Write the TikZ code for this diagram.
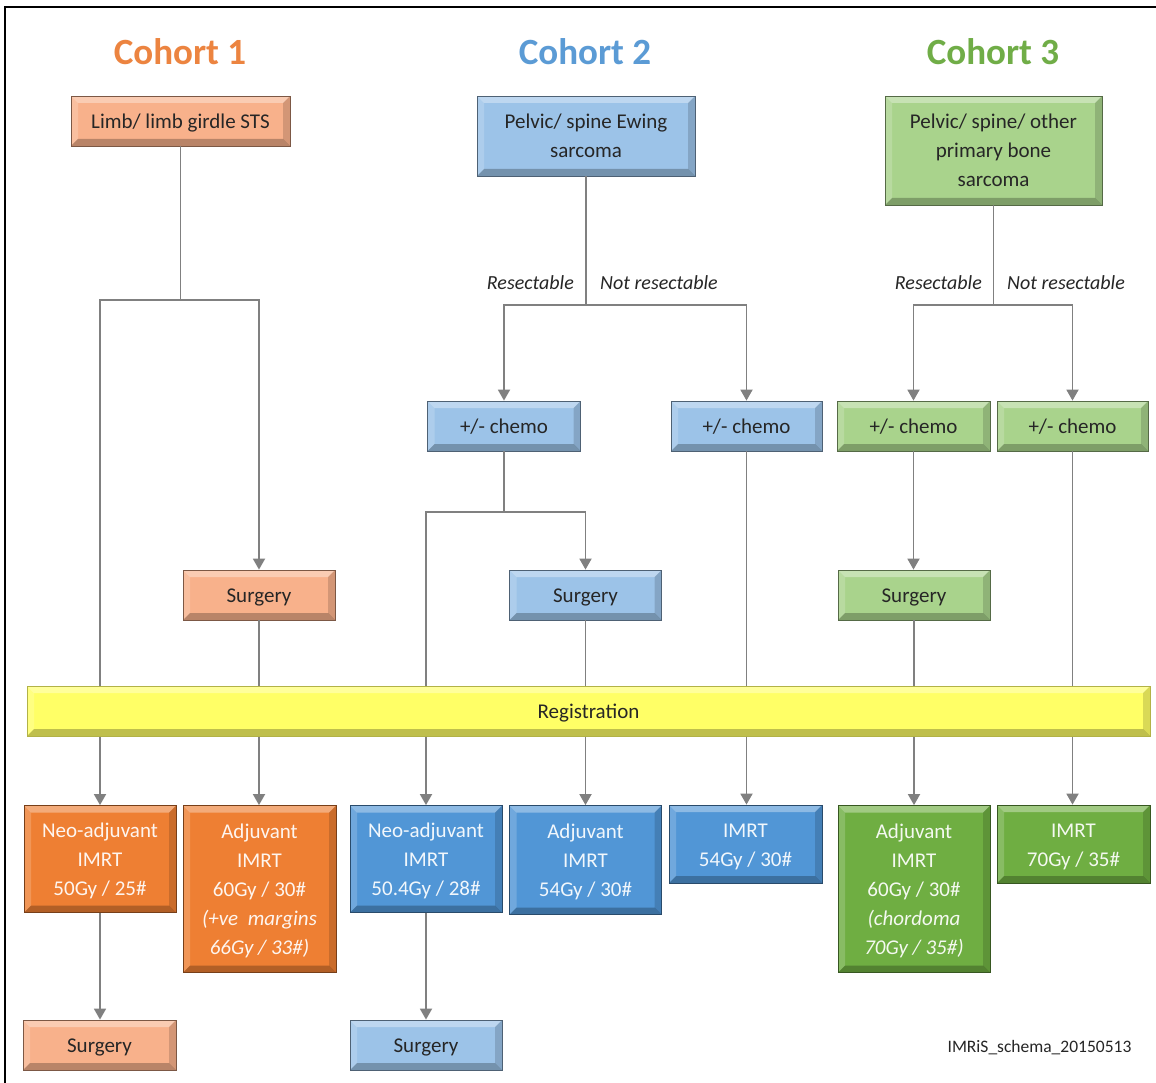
\documentclass[tikz,border=0pt]{standalone}
\usepackage{fontspec}
\setmainfont{Carlito}
\usetikzlibrary{arrows.meta}
\definecolor{orL}{HTML}{F8B18B}
\definecolor{orD}{HTML}{EE7F33}
\definecolor{blL}{HTML}{9CC3E8}
\definecolor{blD}{HTML}{5196D6}
\definecolor{grL}{HTML}{A9D38C}
\definecolor{grD}{HTML}{6FAE42}
\definecolor{yl}{HTML}{FFFF66}
\definecolor{conn}{HTML}{808080}
\definecolor{txt}{HTML}{262626}
\definecolor{tOr}{HTML}{EC8440}
\definecolor{tBl}{HTML}{5B9BD5}
\definecolor{tGr}{HTML}{70AD47}
\newcommand\myst{\rule[-7pt]{0pt}{29pt}}
\tikzset{
 bevel/.style={path picture={
   \fill[white,opacity=0.35] (path picture bounding box.north west) -- (path picture bounding box.north east) -- ([xshift=-7pt,yshift=-7pt]path picture bounding box.north east) -- ([xshift=7pt,yshift=-7pt]path picture bounding box.north west) -- cycle;
   \fill[white,opacity=0.18] (path picture bounding box.north west) -- ([xshift=7pt,yshift=-7pt]path picture bounding box.north west) -- ([xshift=7pt,yshift=7pt]path picture bounding box.south west) -- (path picture bounding box.south west) -- cycle;
   \fill[black,opacity=0.25] (path picture bounding box.south west) -- (path picture bounding box.south east) -- ([xshift=-7pt,yshift=7pt]path picture bounding box.south east) -- ([xshift=7pt,yshift=7pt]path picture bounding box.south west) -- cycle;
   \fill[black,opacity=0.15] (path picture bounding box.north east) -- ([xshift=-7pt,yshift=-7pt]path picture bounding box.north east) -- ([xshift=-7pt,yshift=7pt]path picture bounding box.south east) -- (path picture bounding box.south east) -- cycle;
 }},
 bx/.style={rectangle, inner sep=0pt, align=center, font=\fontsize{21}{29}\selectfont, bevel, line width=0.8pt},
 lbox/.style={bx, fill=#1, draw=#1!50!black, text=txt},
 dbox/.style={bx, fill=#1, draw=#1!50!black, text=white!92!#1},
 ctitle/.style={font=\bfseries\fontsize{37}{40}\selectfont, text=#1, inner sep=0pt},
 lab/.style={font=\itshape\fontsize{20}{24}\selectfont, text=txt, inner sep=0pt},
 cn/.style={draw=conn, line width=1.8pt},
 ar/.style={cn, -{Triangle[width=12pt,length=11pt]}},
}
\begin{document}
\begin{tikzpicture}[x=1pt,y=-1pt]
\useasboundingbox (0,0) rectangle (1156,1083);
\fill[white] (0,0) rectangle (1156,1083);
\draw[line width=2.5pt] (5,1083) -- (5,7) -- (1156,7);

% titles
\node[ctitle=tOr] (c1) at (180,52) {Cohort 1};
\node[ctitle=tBl] (c2) at (585,52) {Cohort 2};
\node[ctitle=tGr] (c3) at (993,52) {Cohort 3};

% top boxes
\node[lbox=orL, minimum width=219pt, minimum height=50pt] (limb) at (180.5,121) {\myst Limb/ limb girdle STS};
\node[lbox=blL, minimum width=218pt, minimum height=80pt] (ewing) at (586,136) {\myst Pelvic/ spine Ewing\\\myst sarcoma};
\node[lbox=grL, minimum width=217pt, minimum height=109pt] (bone) at (993.5,150.5) {\myst Pelvic/ spine/ other\\\myst primary bone\\\myst sarcoma};

% chemo
\node[lbox=blL, minimum width=153pt, minimum height=50pt] (ch2a) at (504,426) {\myst +/- chemo};
\node[lbox=blL, minimum width=151pt, minimum height=50pt] (ch2b) at (746.5,426) {\myst +/- chemo};
\node[lbox=grL, minimum width=153pt, minimum height=50pt] (ch3a) at (913.5,426) {\myst +/- chemo};
\node[lbox=grL, minimum width=151pt, minimum height=50pt] (ch3b) at (1072.5,426) {\myst +/- chemo};

% middle surgery
\node[lbox=orL, minimum width=152pt, minimum height=50pt] (s1) at (259,595) {\myst Surgery};
\node[lbox=blL, minimum width=152pt, minimum height=50pt] (s2) at (585.5,595) {\myst Surgery};
\node[lbox=grL, minimum width=152pt, minimum height=50pt] (s3) at (914,595) {\myst Surgery};

% RT boxes
\node[dbox=orD, minimum width=152pt, minimum height=107pt] (neo1) at (100,859) {\myst Neo-adjuvant\\\myst IMRT\\\myst 50Gy / 25\#};
\node[dbox=orD, minimum width=153pt, minimum height=167pt] (adj1) at (259.5,889) {\myst Adjuvant\\\myst IMRT\\\myst 60Gy / 30\#\\\myst\textit{(+ve\ \ margins}\\\myst\textit{66Gy / 33\#)}};
\node[dbox=blD, minimum width=152pt, minimum height=107pt] (neo2) at (426,859) {\myst Neo-adjuvant\\\myst IMRT\\\myst 50.4Gy / 28\#};
\node[dbox=blD, minimum width=152pt, minimum height=109pt] (adj2) at (585.5,860) {\myst Adjuvant\\\myst IMRT\\\myst 54Gy / 30\#};
\node[dbox=blD, minimum width=153pt, minimum height=78pt] (imrt2) at (745.5,844) {\myst IMRT\\\myst 54Gy / 30\#};
\node[dbox=grD, minimum width=152pt, minimum height=167pt] (adj3) at (914,889) {\myst Adjuvant\\\myst IMRT\\\myst 60Gy / 30\#\\\myst\textit{(chordoma}\\\myst\textit{70Gy / 35\#)}};
\node[dbox=grD, minimum width=153pt, minimum height=78pt] (imrt3) at (1073.5,844) {\myst IMRT\\\myst 70Gy / 35\#};

% bottom surgery
\node[lbox=orL, minimum width=153pt, minimum height=50pt] (bs1) at (99.5,1045) {\myst Surgery};
\node[lbox=blL, minimum width=152pt, minimum height=50pt] (bs2) at (426,1045) {\myst Surgery};

% labels
\node[lab, anchor=east] (r2) at (574,283) {Resectable};
\node[lab, anchor=west] (n2) at (600,283) {Not resectable};
\node[lab, anchor=east] (r3) at (982,283) {Resectable};
\node[lab, anchor=west] (n3) at (1007,283) {Not resectable};

\node[font=\fontsize{17.5}{20}\selectfont, text=txt, inner sep=0pt] (foot) at (1039.5,1048) {IMRiS\_schema\_20150513};

% connectors cohort 1
\draw[cn] (limb.south) -- (limb.south |- 0,300) coordinate (j1);
\draw[ar] (j1) -| (neo1.north);
\draw[ar] (j1) -| (s1.north);
\draw[ar] (s1.south) -- (adj1.north -| s1.south);
\draw[ar] (neo1.south) -- (bs1.north -| neo1.south);

% connectors cohort 2
\draw[cn] (ewing.south) -- (ewing.south |- 0,305) coordinate (j2);
\draw[ar] (j2) -| (ch2a.north);
\draw[ar] (j2) -| (ch2b.north);
\draw[cn] (ch2a.south) -- (ch2a.south |- 0,512) coordinate (j2b);
\draw[ar] (j2b) -| (neo2.north);
\draw[ar] (j2b) -| (s2.north);
\draw[ar] (s2.south) -- (adj2.north -| s2.south);
\draw[ar] (ch2b.south) -- (imrt2.north -| ch2b.south);
\draw[ar] (neo2.south) -- (bs2.north -| neo2.south);

% connectors cohort 3
\draw[cn] (bone.south) -- (bone.south |- 0,305) coordinate (j3);
\draw[ar] (j3) -| (ch3a.north);
\draw[ar] (j3) -| (ch3b.north);
\draw[ar] (ch3a.south) -- (s3.north -| ch3a.south);
\draw[ar] (s3.south) -- (adj3.north -| s3.south);
\draw[ar] (ch3b.south) -- (imrt3.north -| ch3b.south);

% registration bar (over the connectors)
\node[lbox=yl, draw=yl!70!black, minimum width=1123pt, minimum height=50pt] (reg) at (588.5,711) {\myst Registration};
\end{tikzpicture}
\end{document}
